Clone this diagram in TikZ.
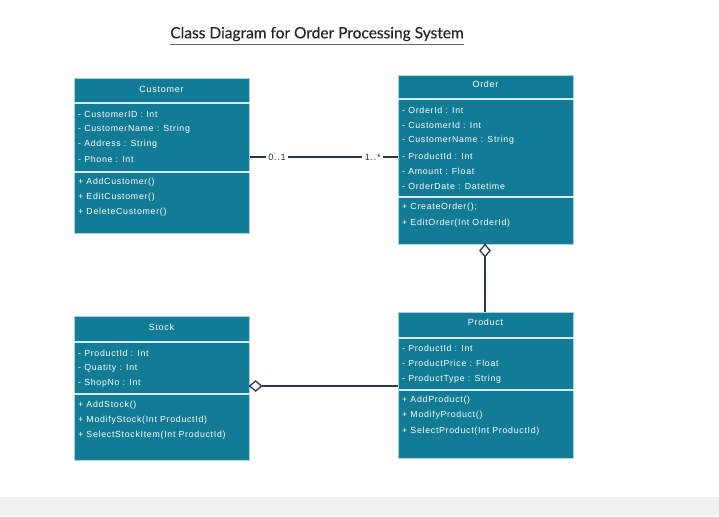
\documentclass[tikz,border=0pt]{standalone}
\usepackage{fontspec}
\setmainfont{Liberation Sans}
\newfontfamily\boxfont[LetterSpace=8]{Liberation Sans}
\newfontfamily\titlefont[FakeBold=0.4]{Lato}
\definecolor{teal1}{HTML}{127B96}
\definecolor{sepc}{HTML}{D6EBF1}
\definecolor{edgec}{HTML}{A9D2DE}
\definecolor{linec}{HTML}{2A3848}
\definecolor{barc}{HTML}{F1F1F1}
\tikzset{
  classbox/.style={draw=edgec, line width=0.6pt, fill=teal1, anchor=north west, inner sep=0pt, minimum width=175pt},
  sepline/.style={draw=sepc, line width=1.4pt},
  hdr/.style={text=white, font=\boxfont\fontsize{9}{10}\selectfont, inner sep=0pt},
  attr/.style={text=white, font=\boxfont\fontsize{8.8}{10}\selectfont, anchor=west, inner sep=0pt},
  conn/.style={draw=linec, line width=1.4pt},
  mult/.style={fill=white, text=linec, font=\boxfont\fontsize{9.2}{10}\selectfont, inner sep=2.5pt},
  agg/.style={draw=linec, line width=1.3pt, fill=white, line join=miter}
}
\begin{document}
\begin{tikzpicture}[x=1pt,y=-1pt]
\useasboundingbox (0,0) rectangle (719,516);
\fill[barc] (0,497) rectangle (719,516);

% title
\node[font=\titlefont\fontsize{15.5}{17}\selectfont, text=black!85, inner sep=0pt] (title) at (317,34) {Class Diagram for Order Processing System};
\draw[linec!75, line width=1pt] ([yshift=-2.8pt]title.south west) -- ([yshift=-2.8pt]title.south east);

% Customer
\node[classbox, minimum height=155pt] (customer) at (74,78) {};
\draw[sepline] (customer.west |- 0,103) -- (customer.east |- 0,103);
\draw[sepline] (customer.west |- 0,172) -- (customer.east |- 0,172);
\node[hdr] (customer-h) at (161.5,89) {Customer};
\node[attr] (customer-a1) at (78,114) {- CustomerID : Int};
\node[attr] (customer-a2) at (78,129) {- CustomerName : String};
\node[attr] (customer-a3) at (78,144) {- Address : String};
\node[attr] (customer-a4) at (78,159) {- Phone : Int};
\node[attr] (customer-m1) at (78,182) {+ AddCustomer()};
\node[attr] (customer-m2) at (78,197) {+ EditCustomer()};
\node[attr] (customer-m3) at (78,212) {+ DeleteCustomer()};

% Order
\node[classbox, minimum height=169pt] (order) at (398,75) {};
\draw[sepline] (order.west |- 0,99) -- (order.east |- 0,99);
\draw[sepline] (order.west |- 0,197) -- (order.east |- 0,197);
\node[hdr] (order-h) at (485.5,84) {Order};
\node[attr] (order-a1) at (402,110) {- OrderId : Int};
\node[attr] (order-a2) at (402,125) {- CustomerId : Int};
\node[attr] (order-a3) at (402,140) {- CustomerName : String};
\node[attr] (order-a4) at (402,156) {- ProductId : Int};
\node[attr] (order-a5) at (402,171) {- Amount : Float};
\node[attr] (order-a6) at (402,186) {- OrderDate : Datetime};
\node[attr] (order-m1) at (402,207) {+ CreateOrder();};
\node[attr] (order-m2) at (402,223) {+ EditOrder(Int OrderId)};

% Stock
\node[classbox, minimum height=144pt] (stock) at (74,316) {};
\draw[sepline] (stock.west |- 0,342) -- (stock.east |- 0,342);
\draw[sepline] (stock.west |- 0,394) -- (stock.east |- 0,394);
\node[hdr] (stock-h) at (161.5,327) {Stock};
\node[attr] (stock-a1) at (78,353) {- ProductId : Int};
\node[attr] (stock-a2) at (78,368) {- Quatity : Int};
\node[attr] (stock-a3) at (78,383) {- ShopNo : Int};
\node[attr] (stock-m1) at (78,405) {+ AddStock()};
\node[attr] (stock-m2) at (78,420) {+ ModifyStock(Int ProductId)};
\node[attr] (stock-m3) at (78,435) {+ SelectStockItem(Int ProductId)};

% Product
\node[classbox, minimum height=146pt] (product) at (398,312) {};
\draw[sepline] (product.west |- 0,338) -- (product.east |- 0,338);
\draw[sepline] (product.west |- 0,390) -- (product.east |- 0,390);
\node[hdr] (product-h) at (485.5,322) {Product};
\node[attr] (product-a1) at (402,348) {- ProductId : Int};
\node[attr] (product-a2) at (402,363) {- ProductPrice : Float};
\node[attr] (product-a3) at (402,379) {- ProductType : String};
\node[attr] (product-m1) at (402,400) {+ AddProduct()};
\node[attr] (product-m2) at (402,415) {+ ModifyProduct()};
\node[attr] (product-m3) at (402,431) {+ SelectProduct(Int ProductId)};

% Customer -- Order association
\draw[conn] (customer.east |- 0,157) -- (order.west |- 0,157)
  node[mult, pos=0.185] (m01) {0..1}
  node[mult, pos=0.83] (m1n) {1..*};

% Order <>-- Product aggregation
\coordinate (od) at (order.south -| 485,0);
\draw[conn] (od) ++(0,12) -- (product.north -| 485,0);
\draw[agg] (od) -- ++(5,6) -- ++(-5,6) -- ++(-5,-6) -- cycle;

% Stock <>-- Product aggregation
\coordinate (sd) at (stock.east |- 0,386);
\draw[conn] (sd) ++(12,0) -- (product.west |- 0,386);
\draw[agg] (sd) -- ++(6,-5) -- ++(6,5) -- ++(-6,5) -- cycle;
\end{tikzpicture}
\end{document}
